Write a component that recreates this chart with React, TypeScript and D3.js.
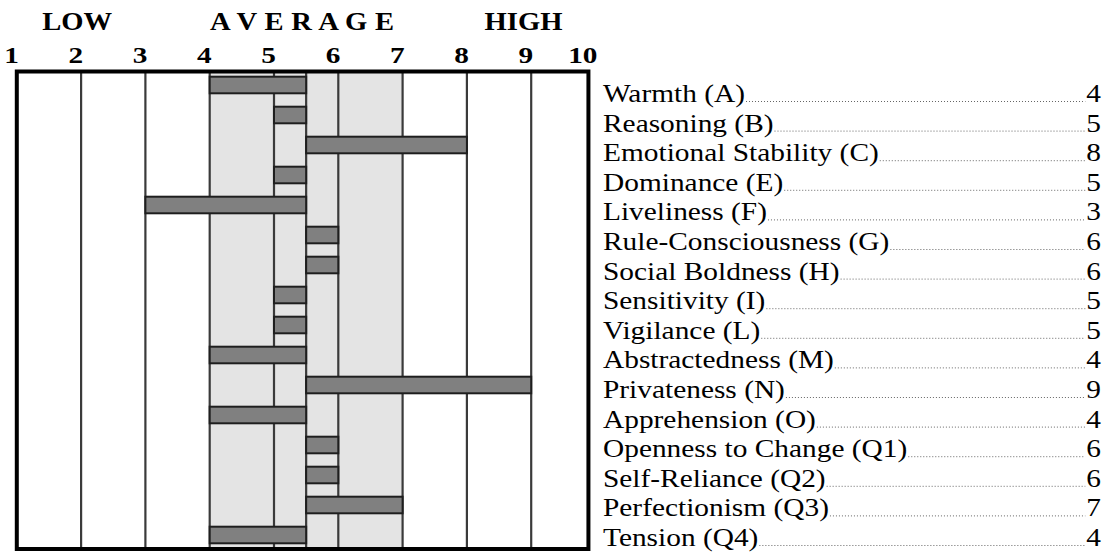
import React, { useEffect, useRef } from 'react';
import * as d3 from 'd3';

const factors: string[] = [
  'Warmth (A)',
  'Reasoning (B)',
  'Emotional Stability (C)',
  'Dominance (E)',
  'Liveliness (F)',
  'Rule-Consciousness (G)',
  'Social Boldness (H)',
  'Sensitivity (I)',
  'Vigilance (L)',
  'Abstractedness (M)',
  'Privateness (N)',
  'Apprehension (O)',
  'Openness to Change (Q1)',
  'Self-Reliance (Q2)',
  'Perfectionism (Q3)',
  'Tension (Q4)',
];
const scores: number[] = [4, 5, 8, 5, 3, 6, 6, 5, 5, 4, 9, 4, 6, 6, 7, 4];
const tickValues: number[] = [1, 2, 3, 4, 5, 6, 7, 8, 9, 10];
const gridValues: number[] = [2, 3, 4, 5, 5.5, 6, 7, 8, 9];
const headerLabels: string[] = ['LOW', 'A V E R A G E', 'HIGH'];
const headerAt: number[] = [1.94, 5.44, 8.88];
const averageRange: number[] = [4, 7];
const midpoint = 5.5;
const frameEnd = 9.89;

const W = 1112;
const H = 557;
const SERIF = '"Liberation Serif", "Times New Roman", serif';

export default function App() {
  const ref = useRef<SVGSVGElement | null>(null);

  useEffect(() => {
    const svg = d3.select(ref.current);
    svg.selectAll('*').remove();

    const x = d3.scaleLinear().domain([1, 10]).range([16.8, 595.5]);
    const top = 71.5;
    const bottom = 549;
    const yBar = d3.scaleBand<number>().domain(d3.range(factors.length)).range([70, 550]);
    const barH = 16.6;
    const yLabel = d3.scalePoint<number>().domain(d3.range(factors.length)).range([102, 546]);

    // background
    svg.append('rect').attr('x', x(1)).attr('y', top).attr('width', x(frameEnd) - x(1)).attr('height', bottom - top).attr('fill', '#fff');

    // average band
    svg.append('rect')
      .attr('x', x(averageRange[0]))
      .attr('y', top)
      .attr('width', x(averageRange[1]) - x(averageRange[0]))
      .attr('height', bottom - top)
      .attr('fill', '#e4e4e4');

    // grid lines
    svg.append('g').selectAll('line').data(gridValues).join('line')
      .attr('x1', (d) => x(d)).attr('x2', (d) => x(d))
      .attr('y1', top).attr('y2', bottom)
      .attr('stroke', '#3a3a3a').attr('stroke-width', 2.2);

    // bars
    svg.append('g').selectAll('rect').data(scores).join('rect')
      .attr('x', (d) => x(Math.min(d, midpoint)))
      .attr('width', (d) => Math.abs(x(d) - x(midpoint)))
      .attr('y', (_d, i) => (yBar(i) as number) + (yBar.bandwidth() - barH) / 2)
      .attr('height', barH)
      .attr('fill', '#808080')
      .attr('stroke', '#1e1e1e')
      .attr('stroke-width', 2);

    // frame
    svg.append('rect').attr('x', x(1)).attr('y', top).attr('width', x(frameEnd) - x(1)).attr('height', bottom - top)
      .attr('fill', 'none').attr('stroke', '#000').attr('stroke-width', 4);

    // header labels
    const HSX = 1.1;
    svg.append('g').selectAll('text').data(headerLabels).join('text')
      .attr('transform', (_d, i) => `translate(${x(headerAt[i])},30) scale(${HSX},1)`)
      .attr('text-anchor', 'middle')
      .attr('font-family', SERIF).attr('font-weight', 'bold').attr('font-size', 26)
      .attr('letter-spacing', (_d, i) => (i === 1 ? 0.3 : 0))
      .text((d) => d);

    // tick labels
    const TSX = 1.22;
    svg.append('g').selectAll('text').data(tickValues).join('text')
      .attr('transform', (d) => `translate(${x(d) + 2},63) scale(${TSX},1)`)
      .attr('text-anchor', 'end')
      .attr('font-family', SERIF).attr('font-weight', 'bold').attr('font-size', 24)
      .text((d) => String(d));

    // factor labels with leaders and scores
    const LSX = 1.13;
    const labelX = 603;
    const scoreX = 1101;
    const rows = svg.append('g');
    factors.forEach((name, i) => {
      const yy = yLabel(i) as number;
      const t = rows.append('text')
        .attr('transform', `translate(${labelX},${yy}) scale(${LSX},1)`)
        .attr('font-family', SERIF).attr('font-size', 26)
        .text(name);
      const s = rows.append('text')
        .attr('transform', `translate(${scoreX},${yy}) scale(${LSX},1)`)
        .attr('text-anchor', 'end')
        .attr('font-family', SERIF).attr('font-size', 26)
        .text(String(scores[i]));
      const tw = (t.node() as SVGTextElement).getComputedTextLength() * LSX;
      const sw = (s.node() as SVGTextElement).getComputedTextLength() * LSX;
      rows.append('line')
        .attr('x1', labelX + tw + 1).attr('x2', scoreX - sw - 1)
        .attr('y1', yy - 0.5).attr('y2', yy - 0.5)
        .attr('stroke', '#666').attr('stroke-width', 1)
        .attr('stroke-dasharray', '1 2');
    });
  }, []);

  return (
    <svg
      ref={ref}
      width={W}
      height={H}
      viewBox={`0 0 ${W} ${H}`}
      style={{ position: 'absolute', left: 0, top: 0, background: '#fff' }}
    />
  );
}
